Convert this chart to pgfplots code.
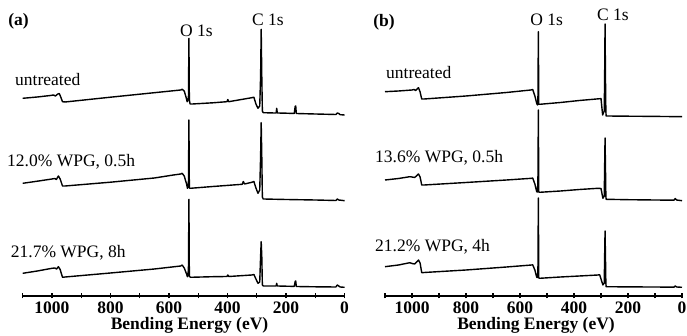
\documentclass[border=0pt]{standalone}
\usepackage{pgfplots}
\pgfplotsset{compat=1.18}
\usepackage{fontspec}
\setmainfont{Liberation Serif}
\begin{document}
\fontsize{17.5}{20}\selectfont
\begin{tikzpicture}[x=1pt,y=1pt]
\path[use as bounding box] (0,0) rectangle (687,336);
\pgfplotsset{xps/.style={
  scale only axis, height=296pt, ymin=0, ymax=296, xmin=0, xmax=1100,
  x dir=reverse, axis x line*=bottom, axis y line=none, clip=false,
  xtick={0,200,...,1000}, minor xtick={100,300,...,1100},
  tick align=center, major tick length=5pt, minor tick length=5pt,
  axis line style={line width=1.5pt},
  every tick/.style={line width=1.3pt, black},
  xticklabel style={font=\bfseries, inner sep=0pt, yshift=-3pt},
  /pgf/number format/assume math mode=true,
  /pgf/number format/set thousands separator={},
  cycle list={{black, line width=1.4pt, mark=none}},
  anchor=south west},
  sp/.style={black, line width=1.4pt, line join=round}}
% ---------------- panel (a)
\begin{axis}[xps, at={(22.7pt,40pt)}, width=321.9pt]
% untreated
\addplot[sp] coordinates {(1100,197.7)(1050,199)(1005,200.5)(995,201)(988,200)(980,202)(975,202.5)(970,199)(964,194.3)(955,194)(800,198.8)(650,203.3)(560,206)(555,206.7)(548,205)(542,199)(538,194.3)(535,196)(533.5,200)(532,257.7)(530.5,196)(528,192)(520,192)(450,193.2)(402,194.3)(399,196.5)(396,194.3)(317,198.3)(310,198.8)(303,192)(296,187.7)(290,190)(287,220)(285,266.7)(283,220)(281,185)(278,183.3)(240,183)(234,183)(232,187.7)(230,183)(200,182.8)(172,182.5)(169,189.5)(167,190)(165,182.5)(100,182)(30,181.5)(25,183)(20,182.5)(15,181.3)(0,181)};
% 12.0% WPG, 0.5h
\addplot[sp] coordinates {(1100,112.7)(1050,114.8)(1000,117)(990,117.5)(985,116.5)(978,120)(972,117)(964,110)(955,110)(800,113.8)(650,118)(585,121)(560,122)(555,122.7)(548,120)(540,112)(537,107.7)(535,110)(533.5,115)(532,176)(530.5,108)(527,107.7)(450,109.5)(350,111.7)(346,114.5)(342,112)(317,113.7)(310,114.5)(303,108)(296,102.7)(290,106)(287,140)(285,173.3)(283,140)(281,99)(278,97)(200,96.5)(100,96)(30,95.5)(25,97)(20,96)(0,95.3)};
% 21.7% WPG, 8h
\addplot[sp] coordinates {(1100,22.7)(1050,25)(1000,27.7)(990,28)(984,27)(978,29.3)(972,26.5)(964,18.7)(955,19)(800,23)(650,27)(560,30)(555,31)(548,28)(540,22)(537,19.3)(535,21)(533.5,30)(532,96.7)(530.5,20)(527,18.7)(450,19.3)(402,19.5)(399,21)(396,19.5)(317,21)(310,21.5)(303,17)(296,12.7)(290,14)(287,40)(285,54.3)(283,40)(281,11)(278,10)(240,10)(234,10)(232,12.7)(230,10)(200,9.8)(172,9.6)(169,14.5)(167,15)(165,9.5)(100,9.2)(30,9)(25,11)(20,10)(15,9)(0,8.7)};
\end{axis}
% ---------------- panel (b)
\begin{axis}[xps, at={(385pt,40pt)}, width=297pt]
% untreated
\addplot[sp] coordinates {(1100,204.3)(1050,205)(1000,206)(992,206.5)(987,205.5)(976,208.3)(970,204)(964,197)(955,197)(800,200)(650,203.5)(560,206)(553,206.5)(545,200)(538,192.5)(535,191)(533.5,200)(532,264.3)(530.5,191.7)(527,191.7)(450,193.5)(380,195.5)(304,197.3)(300,197.5)(294,181)(288,185)(286.5,220)(285,272)(283.5,220)(282,185)(281,180)(200,179.8)(100,179.6)(0,179.3)};
% 13.6% WPG, 0.5h
\addplot[sp] coordinates {(1100,116)(1050,117.5)(1008,119.3)(1000,119)(990,118.5)(976,122)(970,119)(964,111)(955,111)(800,113.5)(650,116)(557,117.7)(553,118)(545,112)(538,104.3)(535,104)(533.5,120)(532,186)(530.5,104)(527,103.7)(450,105)(380,106.5)(311,107.7)(300,107.5)(293,97.7)(288,100)(286.5,130)(285,158)(283.5,130)(282,100)(281,96.7)(200,96.3)(100,96)(30,95.8)(25,97.5)(20,96)(0,95.3)};
% 21.2% WPG, 4h
\addplot[sp] coordinates {(1100,29.3)(1050,31)(1008,33.3)(1000,32.5)(990,32)(976,36)(970,33)(964,23.3)(955,23.5)(800,26)(650,29)(557,31)(553,31.2)(545,26)(538,18.7)(535,18.5)(533.5,30)(532,98)(530.5,18)(527,17.7)(450,19)(380,20)(311,21)(305,21.3)(293,11)(288,13)(286.5,40)(285,65)(283.5,40)(282,13)(281,9.3)(200,9.1)(100,9)(30,8.8)(25,10)(20,9)(0,8.7)};
\end{axis}
% ---------------- texts
\begin{scope}[every node/.style={inner sep=0pt}]
\node[anchor=west] at (15,256) {untreated};
\node[anchor=west] at (7,174) {12.0\% WPG, 0.5h};
\node[anchor=west] at (10.7,83) {21.7\% WPG, 8h};
\node at (196.5,305) {O 1s};
\node at (268,316) {C 1s};
\node[font=\bfseries] at (18.5,314.5) {(a)};
\node[anchor=west] at (386,263) {untreated};
\node[anchor=west] at (375,178) {13.6\% WPG, 0.5h};
\node[anchor=west] at (375,89) {21.2\% WPG, 4h};
\node at (546.7,316) {O 1s};
\node at (612.8,321) {C 1s};
\node[font=\bfseries] at (384,313.5) {(b)};
\node[font=\bfseries] at (189.5,11) {Bending Energy (eV)};
\node[font=\bfseries] at (536,11) {Bending Energy (eV)};
\end{scope}
\end{tikzpicture}
\end{document}
